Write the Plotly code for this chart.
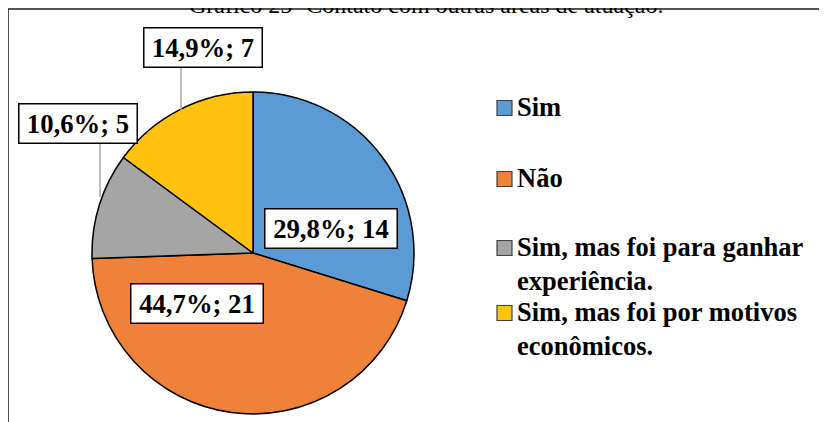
import plotly.graph_objects as go

# Data
labels = [
    "Sim",
    "Não",
    "Sim, mas foi para ganhar<br>experiência.",
    "Sim, mas foi por motivos<br>econômicos.",
]
counts = [14, 21, 5, 7]
colors = ["#5b9bd5", "#ef8138", "#a5a5a5", "#ffc20e"]
title = "Gráfico 25- Contato com outras áreas de atuação."

W, H = 827, 422
FONT = "Liberation Serif, Times New Roman, serif"
OFF = 8  # the page body margin shifts the figure by 8px


def px_x(v):
    return (v - OFF) / W


def px_y(v):
    return 1 - (v - OFF) / H


# Pie geometry in (reference) pixels
cx, cy, r = 253, 253, 161

fig = go.Figure()
fig.add_pie(
    labels=[l.replace("<br>", " ") for l in labels],
    values=counts,
    sort=False,
    direction="clockwise",
    rotation=0,
    marker=dict(colors=colors, line=dict(color="#000000", width=1.5)),
    textinfo="none",
    domain=dict(x=[px_x(cx - r), px_x(cx + r)], y=[px_y(cy + r), px_y(cy - r)]),
    showlegend=False,
)

# Data labels: "pct%; count" with decimal comma
total = sum(counts)
label_texts = [
    f"{c / total * 100:.1f}%; {c}".replace(".", ",") for c in counts
]
# label box centres (px) and leader lines for the outside labels
label_pos = [(330.5, 228), (196.5, 303.5), (77.5, 124), (202.5, 48)]
leaders = [None, None, (100, 144, 197), (181, 68, 110)]

annotations = []
shapes = []
for text, (lx, ly), lead in zip(label_texts, label_pos, leaders):
    if lead:
        x, y0, y1 = lead
        shapes.append(dict(
            type="line", xref="paper", yref="paper",
            x0=px_x(x), x1=px_x(x), y0=px_y(y0), y1=px_y(y1),
            line=dict(color="#a6a6a6", width=1.5),
        ))
    annotations.append(dict(
        text=text, x=px_x(lx), y=px_y(ly),
        xref="paper", yref="paper", showarrow=False,
        xanchor="center", yanchor="middle",
        width=127 if len(text) > 8 else 113, height=34,
        font=dict(family=FONT, size=26.7, color="#000000", weight="bold"),
        bgcolor="#ffffff", bordercolor="#000000", borderwidth=1.5, borderpad=2,
    ))

# Manual legend
legend_y = [108, 179, 248, 313]
for lab, col, ly in zip(labels, colors, legend_y):
    shapes.append(dict(
        type="rect", xref="paper", yref="paper",
        x0=px_x(497), x1=px_x(512), y0=px_y(ly - 7.5), y1=px_y(ly + 7.5),
        fillcolor=col, line=dict(color="#404040", width=1.2),
    ))
    annotations.append(dict(
        text=lab, x=px_x(515), y=px_y(ly - 18),
        xref="paper", yref="paper", showarrow=False,
        xanchor="left", yanchor="top", align="left",
        font=dict(family=FONT, size=26.5, color="#000000", weight="bold"),
    ))

# Title, cut at the top of the picture as in the reference
annotations.append(dict(
    text=title, x=px_x(426), y=px_y(20), xref="paper", yref="paper",
    showarrow=False, xanchor="center", yanchor="bottom",
    font=dict(family=FONT, size=24, color="#000000"),
))

# Chart frame running off the right and bottom edges
shapes.append(dict(
    type="rect", xref="paper", yref="paper",
    x0=px_x(8), x1=1.05, y0=-0.05, y1=px_y(9),
    line=dict(color="#1a1a1a", width=1.5), fillcolor="rgba(0,0,0,0)",
))

fig.update_layout(
    width=W, height=H,
    margin=dict(l=0, r=0, t=0, b=0),
    paper_bgcolor="#ffffff",
    plot_bgcolor="#ffffff",
    annotations=annotations,
    shapes=shapes,
)

fig.write_html("out.html")
